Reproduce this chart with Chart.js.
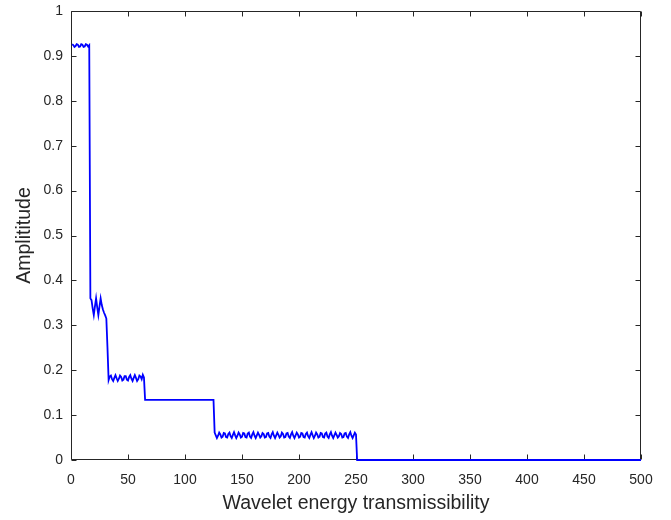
<!DOCTYPE html>
<html>
<head>
<meta charset="utf-8">
<script src="https://cdn.jsdelivr.net/npm/chart.js@4"></script>
<style>
  html, body { margin: 0; padding: 0; background: #ffffff; }
  #wrap { width: 671px; height: 520px; position: relative; }
</style>
</head>
<body>
<div id="wrap"><canvas id="c"></canvas></div>
<script>
// Amplitude per sample index, grouped by plateau.
const stage1Start = 1;
const stage1 = [0.926, 0.924, 0.920, 0.922, 0.926, 0.925, 0.920, 0.921, 0.926, 0.925, 0.920, 0.921, 0.926, 0.925, 0.921, 0.924];

const stage2Start = 17;
const stage2 = [0.360, 0.356, 0.338, 0.323, 0.342, 0.360, 0.340, 0.323, 0.342, 0.360, 0.345, 0.335, 0.328, 0.322, 0.315, 0.250];

const stage3Start = 33;
const stage3 = [0.178, 0.186, 0.188, 0.180, 0.176, 0.183, 0.189, 0.182, 0.176, 0.181, 0.188, 0.185, 0.177, 0.179, 0.187, 0.187,
                0.179, 0.177, 0.185, 0.189, 0.181, 0.176, 0.183, 0.189, 0.183, 0.176, 0.180, 0.188, 0.186, 0.180, 0.190, 0.184];

const stage4X = [65, 125];
const stage4Y = [0.134, 0.134];

const stage5Start = 126;
const stage5 = [0.061, 0.055, 0.049, 0.054, 0.061, 0.057, 0.050, 0.052, 0.060, 0.059, 0.051, 0.050, 0.058, 0.061, 0.053, 0.049,
                0.056, 0.062, 0.055, 0.049, 0.054, 0.061, 0.057, 0.050, 0.052, 0.060, 0.059, 0.051, 0.050, 0.059, 0.061, 0.052,
                0.049, 0.057, 0.062, 0.054, 0.049, 0.055, 0.061, 0.056, 0.050, 0.053, 0.060, 0.058, 0.050, 0.051, 0.059, 0.060,
                0.052, 0.049, 0.057, 0.062, 0.054, 0.049, 0.055, 0.061, 0.056, 0.050, 0.053, 0.061, 0.058, 0.050, 0.051, 0.059,
                0.060, 0.052, 0.049, 0.057, 0.062, 0.054, 0.049, 0.055, 0.061, 0.057, 0.050, 0.052, 0.060, 0.059, 0.051, 0.050,
                0.058, 0.061, 0.053, 0.049, 0.056, 0.062, 0.055, 0.049, 0.054, 0.061, 0.057, 0.050, 0.052, 0.060, 0.059, 0.051,
                0.050, 0.059, 0.061, 0.052, 0.049, 0.057, 0.062, 0.054, 0.049, 0.055, 0.061, 0.056, 0.050, 0.053, 0.060, 0.058,
                0.050, 0.051, 0.059, 0.060, 0.052, 0.049, 0.057, 0.062, 0.054, 0.049, 0.055, 0.061, 0.057];

const stage6X = [251, 500];
const stage6Y = [0, 0];

const xTicks = [0, 50, 100, 150, 200, 250, 300, 350, 400, 450, 500];
const yTicks = [0, 0.1, 0.2, 0.3, 0.4, 0.5, 0.6, 0.7, 0.8, 0.9, 1];

const xLabel = 'Wavelet energy transmissibility';
const yLabel = 'Amplititude';

// Build the {x, y} point list
const points = [];
const addRun = (start, vals) => vals.forEach((v, i) => points.push({ x: start + i, y: v }));
const addPairs = (xs, ys) => xs.forEach((xv, i) => points.push({ x: xv, y: ys[i] }));
addRun(stage1Start, stage1);
addRun(stage2Start, stage2);
addRun(stage3Start, stage3);
addPairs(stage4X, stage4Y);
addRun(stage5Start, stage5);
addPairs(stage6X, stage6Y);

const ink = '#262626';
const fontFamily = '"Liberation Sans", Arial, Helvetica, sans-serif';

// Boxed axes with inward tick marks on all four sides
const boxAxes = {
  id: 'boxAxes',
  beforeDatasetsDraw(chart) {
    const { ctx, chartArea: a, scales } = chart;
    const len = 5;
    ctx.save();
    ctx.strokeStyle = ink;
    ctx.lineWidth = 1;
    ctx.beginPath();
    const L = Math.round(a.left) + 0.5, R = Math.round(a.right) - 0.5;
    const T = Math.round(a.top) + 0.5, B = Math.round(a.bottom) - 0.5;
    ctx.rect(L, T, R - L, B - T);
    scales.x.ticks.forEach(t => {
      const px = Math.round(scales.x.getPixelForValue(t.value)) + 0.5;
      ctx.moveTo(px, B); ctx.lineTo(px, B - len);
      ctx.moveTo(px, T); ctx.lineTo(px, T + len);
    });
    scales.y.ticks.forEach(t => {
      const py = Math.round(scales.y.getPixelForValue(t.value)) + 0.5;
      ctx.moveTo(L, py); ctx.lineTo(L + len, py);
      ctx.moveTo(R, py); ctx.lineTo(R - len, py);
    });
    ctx.stroke();
    ctx.restore();
  }
};

new Chart(document.getElementById('c'), {
  type: 'line',
  data: {
    datasets: [{
      data: points,
      borderColor: '#0000ff',
      borderWidth: 1.8,
      pointRadius: 0,
      tension: 0,
      fill: false,
      clip: 4
    }]
  },
  options: {
    responsive: true,
    maintainAspectRatio: false,
    animation: false,
    events: [],
    layout: { padding: { top: 11, right: 30, left: 0, bottom: 0 } },
    plugins: { legend: { display: false }, tooltip: { enabled: false } },
    scales: {
      x: {
        type: 'linear',
        min: 0, max: 500,
        afterBuildTicks(scale) { scale.ticks = xTicks.map(v => ({ value: v })); },
        afterFit(scale) { scale.height = 60; scale.paddingLeft = 0; scale.paddingRight = 0; },
        grid: { display: false, drawTicks: false },
        border: { display: false },
        ticks: { color: ink, font: { family: fontFamily, size: 14 }, padding: 12, maxRotation: 0, autoSkip: false,
                 callback: v => String(v) },
        title: { display: true, text: xLabel, color: ink, font: { family: fontFamily, size: 19.5 }, padding: { top: 0, bottom: 5 } }
      },
      y: {
        type: 'linear',
        min: 0, max: 1,
        afterBuildTicks(scale) { scale.ticks = yTicks.map(v => ({ value: v })); },
        afterFit(scale) { scale.width = 71; scale.paddingTop = 0; scale.paddingBottom = 0; },
        grid: { display: false, drawTicks: false },
        border: { display: false },
        ticks: { color: ink, font: { family: fontFamily, size: 14 }, padding: 8, autoSkip: false,
                 callback: v => String(Math.round(v * 10) / 10) },
        title: { display: true, text: yLabel, color: ink, font: { family: fontFamily, size: 19.5 }, padding: { top: 13, bottom: 0 } }
      }
    }
  },
  plugins: [boxAxes]
});
</script>
</body>
</html>
